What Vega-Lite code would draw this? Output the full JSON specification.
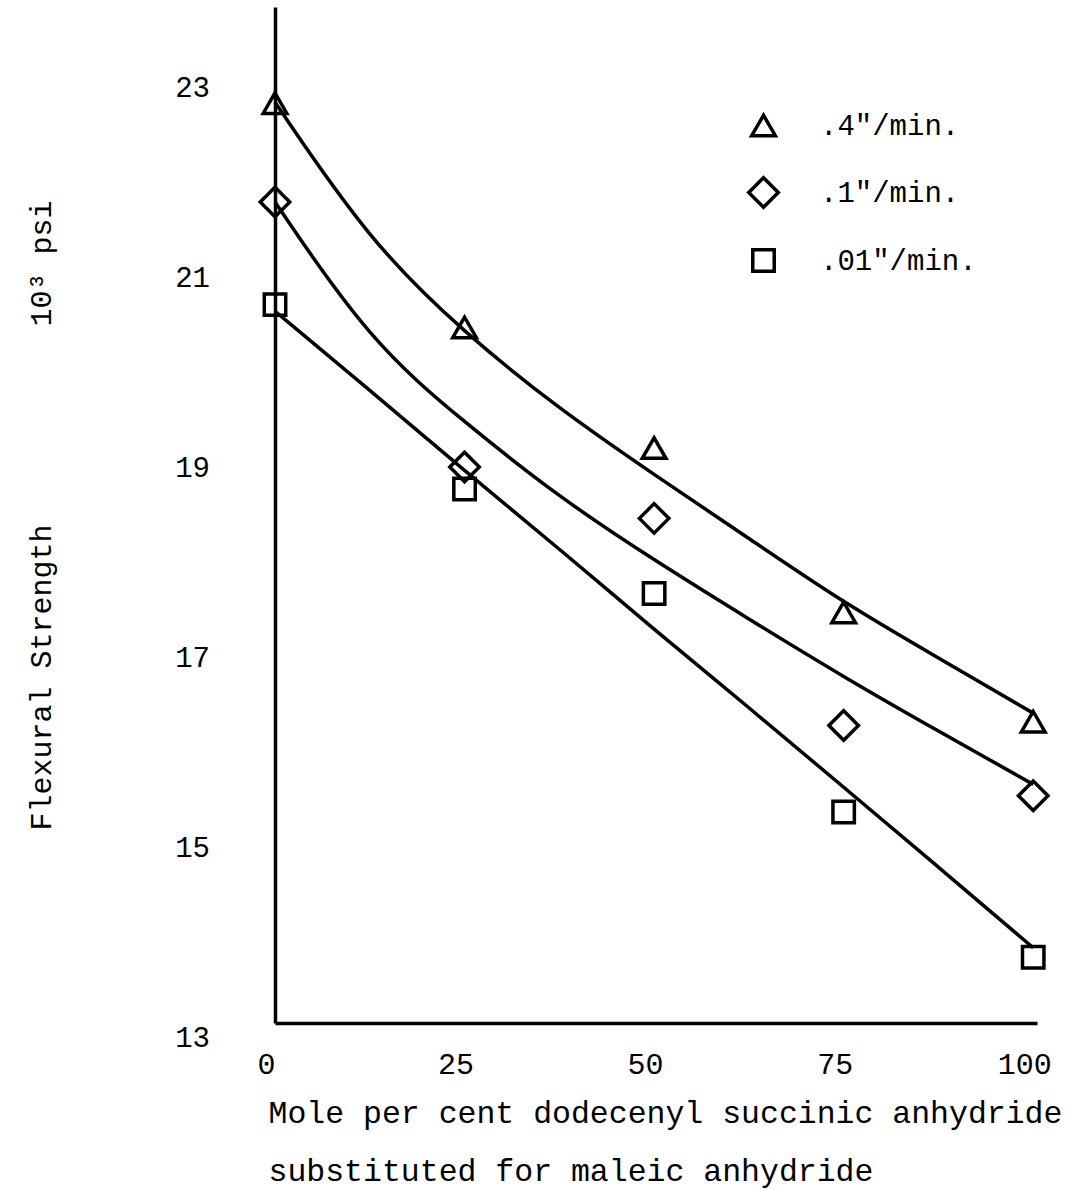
{
  "$schema": "https://vega.github.io/schema/vega-lite/v6.json",
  "autosize": {"type": "none"},
  "padding": {"left": 275, "top": 7, "right": 41, "bottom": 167},
  "width": 762,
  "height": 1016,
  "background": "white",
  "config": {
    "view": {"stroke": null},
    "font": "Liberation Mono",
    "axis": {
      "domainColor": "black",
      "domainWidth": 3.5,
      "ticks": false,
      "grid": false,
      "labelColor": "black",
      "titleColor": "black",
      "labelFont": "Liberation Mono",
      "titleFont": "Liberation Mono",
      "titleFontWeight": "normal",
      "labelFlush": false,
      "labelOverlap": false
    },
    "legend": {"labelFontSize": 29, "labelFont": "Liberation Mono", "labelColor": "black"}
  },
  "datasets": {
    "points": [
      {"series": ".4\"/min.", "x": 0, "y": 22.84},
      {"series": ".4\"/min.", "x": 25, "y": 20.48},
      {"series": ".4\"/min.", "x": 50, "y": 19.21},
      {"series": ".4\"/min.", "x": 75, "y": 17.48},
      {"series": ".4\"/min.", "x": 100, "y": 16.33},
      {"series": ".1\"/min.", "x": 0, "y": 21.8},
      {"series": ".1\"/min.", "x": 25, "y": 19.01},
      {"series": ".1\"/min.", "x": 50, "y": 18.47},
      {"series": ".1\"/min.", "x": 75, "y": 16.29},
      {"series": ".1\"/min.", "x": 100, "y": 15.55},
      {"series": ".01\"/min.", "x": 0, "y": 20.72},
      {"series": ".01\"/min.", "x": 25, "y": 18.78},
      {"series": ".01\"/min.", "x": 50, "y": 17.68},
      {"series": ".01\"/min.", "x": 75, "y": 15.38},
      {"series": ".01\"/min.", "x": 100, "y": 13.85}
    ],
    "curves": [
      {"series": "a", "x": 0, "y": 22.85},
      {"series": "a", "x": 12.5, "y": 21.38},
      {"series": "a", "x": 25, "y": 20.42},
      {"series": "a", "x": 37.5, "y": 19.62},
      {"series": "a", "x": 50, "y": 18.93},
      {"series": "a", "x": 62.5, "y": 18.26},
      {"series": "a", "x": 75, "y": 17.58},
      {"series": "a", "x": 87.5, "y": 17.0},
      {"series": "a", "x": 100, "y": 16.42},
      {"series": "b", "x": 0, "y": 21.8},
      {"series": "b", "x": 12.5, "y": 20.33},
      {"series": "b", "x": 25, "y": 19.48},
      {"series": "b", "x": 37.5, "y": 18.69},
      {"series": "b", "x": 50, "y": 18.03},
      {"series": "b", "x": 62.5, "y": 17.41},
      {"series": "b", "x": 75, "y": 16.8},
      {"series": "b", "x": 87.5, "y": 16.23},
      {"series": "b", "x": 100, "y": 15.67},
      {"series": "c", "x": 0, "y": 20.65},
      {"series": "c", "x": 12.5, "y": 19.82},
      {"series": "c", "x": 25, "y": 18.97},
      {"series": "c", "x": 37.5, "y": 18.15},
      {"series": "c", "x": 50, "y": 17.3},
      {"series": "c", "x": 62.5, "y": 16.48},
      {"series": "c", "x": 75, "y": 15.64},
      {"series": "c", "x": 87.5, "y": 14.8},
      {"series": "c", "x": 100, "y": 13.95}
    ],
    "yticks": [
      {"v": 13}, {"v": 15}, {"v": 17}, {"v": 19}, {"v": 21}, {"v": 23}
    ]
  },
  "layer": [
    {
      "data": {"name": "curves"},
      "mark": {"type": "line", "interpolate": "basis", "stroke": "black", "strokeWidth": 3.5},
      "encoding": {
        "x": {
          "field": "x", "type": "quantitative",
          "scale": {"domain": [0, 100.5], "nice": false, "zero": false},
          "axis": {
            "values": [0, 25, 50, 75, 100],
            "labelFontSize": 30,
            "labelPadding": 26,
            "labelOffset": -9,
            "title": ["Mole per cent dodecenyl succinic anhydride", "substituted for maleic anhydride"],
            "titleFontSize": 31.5,
            "titleAnchor": "start",
            "titleAlign": "left",
            "titleBaseline": "alphabetic",
            "titleX": -7,
            "titleY": 99,
            "titleLineHeight": 58
          }
        },
        "y": {
          "field": "y", "type": "quantitative",
          "scale": {"domain": [13.158, 23.853], "nice": false, "zero": false},
          "axis": {
            "labels": false,
            "values": [15, 17, 19, 21, 23],
            "title": "Flexural Strength\u00a0\u00a0\u00a0\u00a0\u00a0\u00a0\u00a0\u00a0\u00a0\u00a0\u00a010³ psi",
            "titleFontSize": 30,
            "titleAngle": 270,
            "titleAlign": "center",
            "titleBaseline": "alphabetic",
            "titleX": -225,
            "titleY": 508
          }
        },
        "detail": {"field": "series", "type": "nominal"}
      }
    },
    {
      "data": {"name": "yticks"},
      "mark": {"type": "text", "align": "right", "baseline": "middle", "dx": -65, "fontSize": 29, "font": "Liberation Mono", "color": "black"},
      "encoding": {
        "x": {"datum": 0},
        "y": {"field": "v", "type": "quantitative"},
        "text": {"field": "v", "type": "quantitative", "format": "d"}
      }
    },
    {
      "data": {"name": "points"},
      "mark": {"type": "point", "filled": false, "stroke": "black", "strokeWidth": 3.5, "opacity": 1, "fill": "white", "fillOpacity": 0},
      "encoding": {
        "x": {"field": "x", "type": "quantitative"},
        "y": {"field": "y", "type": "quantitative"},
        "shape": {
          "field": "series", "type": "nominal",
          "scale": {"domain": [".4\"/min.", ".1\"/min.", ".01\"/min."], "range": ["triangle-up", "diamond", "square"]},
          "legend": {
            "title": null,
            "orient": "none",
            "legendX": 472,
            "legendY": 104,
            "padding": 0,
            "labelFont": "Liberation Mono",
            "labelFontSize": 29,
            "labelColor": "black",
            "labelOffset": 40,
            "rowPadding": 27,
            "symbolStrokeColor": "black",
            "symbolFillColor": "transparent",
            "symbolStrokeWidth": 3.5
          }
        },
        "size": {
          "field": "series", "type": "nominal",
          "scale": {"type": "ordinal", "domain": [".4\"/min.", ".1\"/min.", ".01\"/min."], "range": [560, 870, 460]}
        }
      }
    }
  ]
}
